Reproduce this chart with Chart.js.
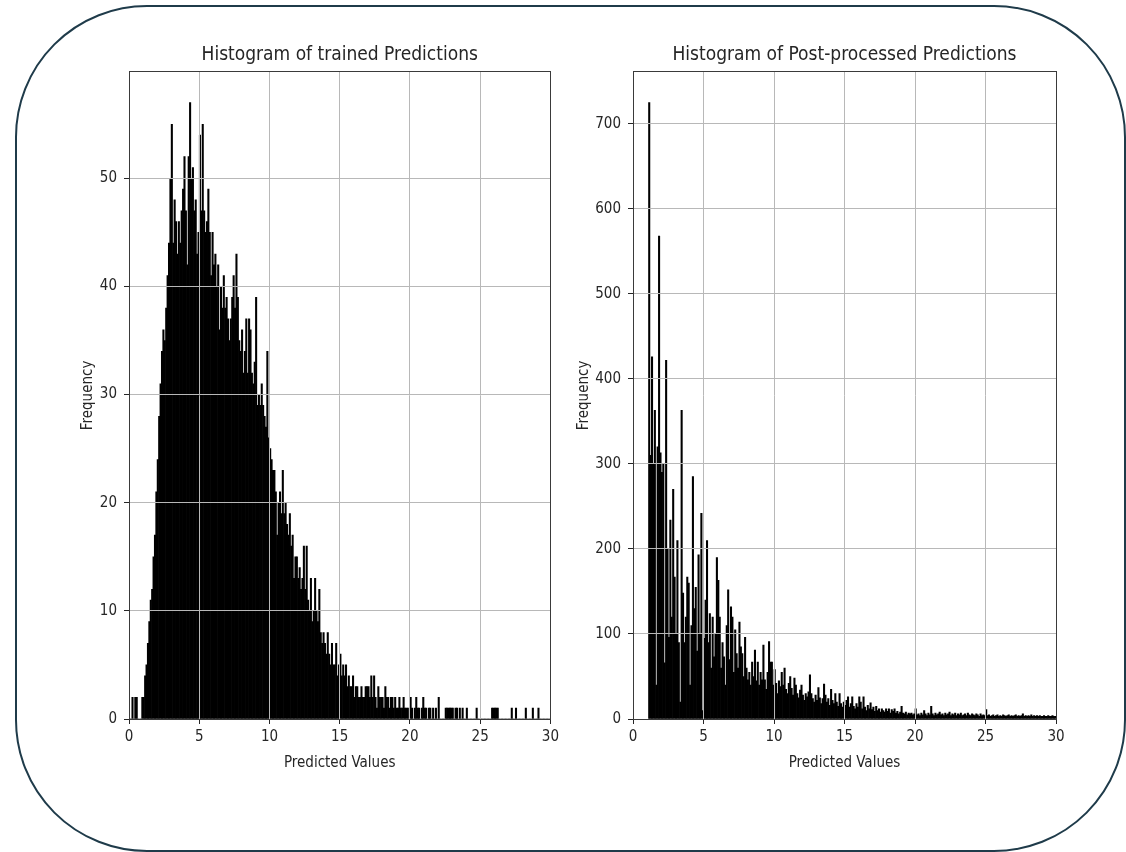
<!DOCTYPE html>
<html>
<head>
<meta charset="utf-8">
<title>Histograms of predictions</title>
<script src="https://cdn.jsdelivr.net/npm/chart.js@4.4.1/dist/chart.umd.min.js"></script>
<style>
  html, body { margin: 0; padding: 0; background: #fff; }
  #page { position: relative; width: 1126px; height: 852px; overflow: hidden; }
  #frame { position: absolute; left: 15px; top: 5px; width: 1111px; height: 847px;
    box-sizing: border-box; border: 2px solid #1f3b4a; border-radius: 132px; }
  canvas { position: absolute; top: 0; }
  #left { left: 0; }
  #right { left: 563px; }
</style>
</head>
<body>
<div id="page">
  <div id="frame"></div>
  <canvas id="left" width="563" height="852"></canvas>
  <canvas id="right" width="563" height="852"></canvas>
</div>
<script>
/* two matplotlib-style histograms, bins 0.1 wide, counts */

var BIN_WIDTH = 0.1;

// trained predictions: bins from 0.0 to 30.0, one row per unit
var LEFT_START = 0.0;
var LEFT_COUNTS = [
  0, 0, 2, 0, 2, 2, 0, 0, 0, 2,           // 0
  2, 4, 5, 7, 9, 11, 12, 15, 17, 21,      // 1
  24, 28, 31, 34, 36, 35, 38, 41, 44, 50, // 2
  55, 44, 48, 46, 43, 46, 44, 47, 49, 52, // 3
  47, 42, 52, 57, 50, 51, 47, 48, 43, 45, // 4
  54, 47, 55, 47, 45, 46, 49, 45, 41, 45, // 5
  42, 43, 40, 42, 36, 40, 38, 41, 38, 39, // 6
  37, 35, 37, 39, 41, 38, 43, 39, 35, 34, // 7
  36, 32, 34, 37, 32, 37, 36, 32, 31, 33, // 8
  39, 29, 30, 29, 31, 29, 28, 27, 34, 26, // 9
  25, 24, 23, 23, 21, 17, 20, 21, 19, 23, // 10
  19, 20, 18, 17, 19, 16, 17, 13, 15, 15, // 11
  13, 14, 12, 13, 16, 12, 16, 11, 10, 13, // 12
  9, 10, 13, 10, 9, 12, 8, 7, 8, 7,       // 13
  6, 8, 6, 5, 7, 5, 5, 7, 4, 5,           // 14
  6, 4, 5, 4, 5, 3, 4, 3, 3, 4,           // 15
  2, 3, 3, 2, 2, 3, 2, 2, 3, 3,           // 16
  3, 2, 4, 2, 4, 2, 1, 3, 2, 2,           // 17
  2, 1, 3, 2, 2, 1, 2, 2, 1, 2,           // 18
  1, 1, 2, 1, 1, 2, 1, 1, 1, 0,           // 19
  2, 1, 0, 1, 2, 1, 1, 0, 1, 2,           // 20
  1, 1, 0, 1, 1, 0, 1, 0, 1, 0,           // 21
  2, 0, 0, 0, 0, 1, 1, 1, 1, 1,           // 22
  1, 0, 1, 1, 0, 1, 0, 1, 0, 0,           // 23
  1, 0, 0, 0, 0, 0, 0, 1, 0, 0,           // 24
  0, 0, 0, 0, 0, 0, 0, 0, 1, 1,           // 25
  1, 1, 1, 0, 0, 0, 0, 0, 0, 0,           // 26
  0, 0, 1, 0, 0, 1, 0, 0, 0, 0,           // 27
  0, 0, 1, 0, 0, 0, 0, 1, 0, 0,           // 28
  0, 1, 0, 0, 0, 0, 0, 0, 0, 0            // 29
];

// post-processed predictions: bins from 1.1 to 30.0
var RIGHT_START = 1.1;
var RIGHT_COUNTS = [
  725, 310, 426, 300, 363, 40, 320, 568, 313,       // 1.1
  290, 300, 66, 422, 200, 96, 234, 120, 270, 167,   // 2
  100, 210, 90, 20, 363, 148, 90, 120, 167, 160,    // 3
  40, 110, 285, 130, 155, 80, 193, 100, 242, 10,    // 4
  95, 140, 210, 90, 124, 60, 120, 73, 100, 190,     // 5
  163, 120, 60, 90, 73, 40, 110, 152, 70, 132,      // 6
  120, 55, 105, 77, 60, 114, 85, 77, 50, 96,        // 7
  60, 46, 55, 40, 67, 50, 81, 45, 67, 40,           // 8
  55, 46, 87, 46, 35, 55, 91, 67, 67, 40,           // 9
  58, 42, 30, 45, 38, 55, 40, 60, 35, 30,           // 10
  42, 50, 36, 28, 48, 40, 30, 25, 34, 40,           // 11
  28, 22, 30, 26, 32, 52, 30, 24, 20, 28,           // 12
  22, 37, 25, 18, 24, 41, 28, 20, 24, 16,           // 13
  35, 22, 18, 30, 20, 15, 30, 18, 14, 20,           // 14
  16, 22, 26, 14, 18, 26, 15, 12, 18, 14,           // 15
  26, 20, 12, 26, 14, 10, 16, 12, 19, 11,           // 16
  14, 9, 15, 10, 12, 8, 12, 10, 8, 12,              // 17
  9, 12, 7, 11, 9, 12, 7, 9, 6, 8,                  // 18
  15, 7, 6, 8, 5, 7, 6, 7, 5, 6,                    // 19
  12, 5, 6, 4, 7, 5, 10, 6, 4, 7,                   // 20
  5, 15, 6, 4, 7, 5, 6, 8, 5, 6,                    // 21
  4, 7, 5, 6, 8, 4, 6, 5, 7, 4,                     // 22
  6, 5, 7, 4, 5, 6, 4, 7, 5, 4,                     // 23
  6, 5, 4, 6, 5, 3, 6, 4, 5, 4,                     // 24
  11, 4, 5, 3, 4, 5, 3, 4, 5, 3,                    // 25
  4, 3, 5, 4, 3, 4, 5, 3, 4, 3,                     // 26
  4, 5, 3, 4, 3, 4, 6, 3, 4, 3,                     // 27
  4, 3, 5, 3, 4, 3, 4, 3, 4, 3,                     // 28
  3, 4, 3, 3, 4, 3, 3, 4, 3, 3                      // 29
];

var X_MIN = 0, X_MAX = 30, X_STEP = 5;
var LEFT_Y_MAX = 59.85, LEFT_Y_STEP = 10;
var RIGHT_Y_MAX = 761.25, RIGHT_Y_STEP = 100;
var TITLES = ["Histogram of trained Predictions", "Histogram of Post-processed Predictions"];
var X_LABEL = "Predicted Values", Y_LABEL = "Frequency";

var FONT = "'DejaVu Sans Condensed', 'DejaVu Sans', sans-serif";
var INK = "#262626", GRID = "#b8b8b8", SPINE = "#3a3a3a";

function align(px) { return Math.round(px - 0.5) + 0.5; }

// axes box on all four sides, like matplotlib spines
var spines = {
  id: "spines",
  afterDraw: function (chart) {
    var a = chart.chartArea, ctx = chart.ctx;
    var l = align(a.left), r = align(a.right), t = align(a.top), b = align(a.bottom);
    ctx.save();
    ctx.strokeStyle = SPINE;
    ctx.lineWidth = 1;
    ctx.strokeRect(l, t, r - l, b - t);
    ctx.restore();
  }
};

function histogram(id, start, counts, yMax, yStep, title, pad, yWidth) {
  var pts = counts.map(function (c, i) {
    return { x: +(start + (i + 0.5) * BIN_WIDTH).toFixed(3), y: c };
  });
  return new Chart(document.getElementById(id), {
    type: "bar",
    data: {
      datasets: [{
        data: pts, backgroundColor: "#000", borderWidth: 0,
        barPercentage: 1, categoryPercentage: 1
      }]
    },
    options: {
      responsive: false, animation: false, events: [],
      layout: { padding: pad },
      plugins: {
        legend: { display: false },
        tooltip: { enabled: false },
        title: {
          display: true, text: title, fullSize: false, color: INK,
          font: { family: FONT, size: 19, weight: "normal" },
          padding: { top: 0, bottom: 5 }
        }
      },
      scales: {
        // grid z > 0: matplotlib draws the grid over the bars
        x: {
          type: "linear", min: X_MIN, max: X_MAX, offset: false,
          grid: { offset: false, z: 1, color: GRID, tickColor: INK, tickLength: 5 },
          border: { display: false },
          ticks: { stepSize: X_STEP, color: INK, font: { family: FONT, size: 15 }, padding: 4, maxRotation: 0 },
          title: { display: true, text: X_LABEL, color: INK, font: { family: FONT, size: 15 }, padding: 0 },
          afterFit: function (s) { s.height = 53; }
        },
        y: {
          type: "linear", min: 0, max: yMax,
          grid: { z: 1, color: GRID, tickColor: INK, tickLength: 5 },
          border: { display: false },
          ticks: { stepSize: yStep, includeBounds: false, color: INK, font: { family: FONT, size: 15 }, padding: 7 },
          title: { display: true, text: Y_LABEL, color: INK, font: { family: FONT, size: 15 }, padding: 0 },
          afterFit: function (s) { s.width = yWidth; }
        }
      }
    },
    plugins: [spines]
  });
}

histogram("left", LEFT_START, LEFT_COUNTS, LEFT_Y_MAX, LEFT_Y_STEP, TITLES[0],
  { left: 79, right: 12, top: 44, bottom: 80 }, 50);
histogram("right", RIGHT_START, RIGHT_COUNTS, RIGHT_Y_MAX, RIGHT_Y_STEP, TITLES[1],
  { left: 12, right: 70, top: 44, bottom: 80 }, 58);
</script>
</body>
</html>
